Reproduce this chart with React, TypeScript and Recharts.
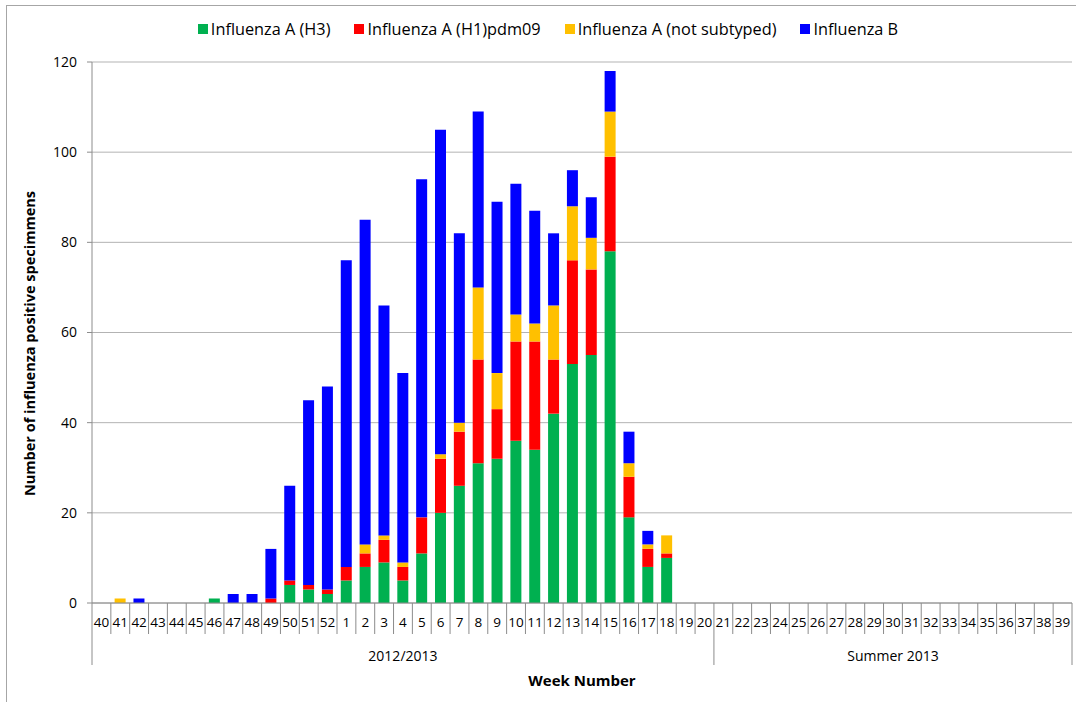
import React from "react";
import { BarChart, Bar, XAxis, YAxis, CartesianGrid, Legend } from "recharts";

const weeks = [
  "40","41","42","43","44","45","46","47","48","49","50","51","52",
  "1","2","3","4","5","6","7","8","9","10","11","12","13","14","15","16","17","18","19","20",
  "21","22","23","24","25","26","27","28","29","30","31","32","33","34","35","36","37","38","39",
];

const h3 = [
  0,0,0,0,0,0,1,0,0,0,4,3,2,
  5,8,9,5,11,20,26,31,32,36,34,42,53,55,78,19,8,10,0,0,
  0,0,0,0,0,0,0,0,0,0,0,0,0,0,0,0,0,0,0,
];
const h1 = [
  0,0,0,0,0,0,0,0,0,1,1,1,1,
  3,3,5,3,8,12,12,23,11,22,24,12,23,19,21,9,4,1,0,0,
  0,0,0,0,0,0,0,0,0,0,0,0,0,0,0,0,0,0,0,
];
const notSubtyped = [
  0,1,0,0,0,0,0,0,0,0,0,0,0,
  0,2,1,1,0,1,2,16,8,6,4,12,12,7,10,3,1,4,0,0,
  0,0,0,0,0,0,0,0,0,0,0,0,0,0,0,0,0,0,0,
];
const fluB = [
  0,0,1,0,0,0,0,2,2,11,21,41,45,
  68,72,51,42,75,72,42,39,38,29,25,16,8,9,9,7,3,0,0,0,
  0,0,0,0,0,0,0,0,0,0,0,0,0,0,0,0,0,0,0,
];

const groupLabels = ["2012/2013", "Summer 2013"];
const yTicks = [0, 20, 40, 60, 80, 100, 120];

const seriesNames = ["Influenza A (H3)", "Influenza A (H1)pdm09", "Influenza A (not subtyped)", "Influenza B"];
const seriesColors = ["#00B050", "#FF0000", "#FFC000", "#0000FF"];
const seriesKeys = ["h3", "h1", "ns", "b"];

const data = weeks.map((w, i) => ({
  week: w,
  h3: h3[i],
  h1: h1[i],
  ns: notSubtyped[i],
  b: fluB[i],
}));

const FONT = "'Open Sans', 'Liberation Sans', sans-serif";
const LINE = "#8c8c8c";

const GROUP2_START = 33; // index of week 21
const LAST = weeks.length - 1;

const WeekTick = (props: any) => {
  const { x, y, payload } = props;
  const index = payload.index;
  const half = payload.offset && payload.offset > 0 ? payload.offset : 9.42;
  const left = x - half;
  const right = x + half;
  const shortLen = 31;
  const longLen = 62;
  const els: any[] = [];
  const leftLong = index === 0 || index === GROUP2_START;
  els.push(
    <line key="l" x1={left} x2={left} y1={y} y2={y + (leftLong ? longLen : shortLen)} stroke={LINE} strokeWidth={1} />
  );
  if (index === LAST) {
    els.push(<line key="r" x1={right} x2={right} y1={y} y2={y + longLen} stroke={LINE} strokeWidth={1} />);
  }
  els.push(
    <text key="t" x={x} y={y + 19} textAnchor="middle" dominantBaseline="central" fontSize={13.5} fontFamily={FONT} fill="#000">
      {payload.value}
    </text>
  );
  if (index === 16) {
    els.push(
      <text key="g1" x={x} y={y + 52} textAnchor="middle" dominantBaseline="central" fontSize={14} fontFamily={FONT} fill="#000">
        {groupLabels[0]}
      </text>
    );
  }
  if (index === 42) {
    els.push(
      <text key="g2" x={x} y={y + 52} textAnchor="middle" dominantBaseline="central" fontSize={14} fontFamily={FONT} fill="#000">
        {groupLabels[1]}
      </text>
    );
  }
  return <g>{els}</g>;
};

const LegendContent = () => (
  <div style={{ display: "flex", justifyContent: "center", alignItems: "center", fontFamily: FONT, fontSize: 16.3, color: "#000", height: 24, paddingLeft: 20, boxSizing: "border-box" }}>
    {seriesNames.map((n, i) => (
      <div key={n} style={{ display: "flex", alignItems: "center", marginRight: i < seriesNames.length - 1 ? 24 : 0 }}>
        <span style={{ display: "inline-block", width: 10, height: 10, background: seriesColors[i], marginRight: 3 }} />
        <span>{n}</span>
      </div>
    ))}
  </div>
);

export default function App() {
  return (
    <div style={{ position: "absolute", left: 0, top: 0, width: 1076, height: 702, background: "#fff" }}>
      <div style={{ position: "absolute", left: 6, top: 5, width: 1070, height: 697, borderLeft: "1.5px solid #a6a6a6", borderTop: "1.5px solid #a6a6a6", boxSizing: "border-box" }} />
      <BarChart
        width={1076}
        height={702}
        data={data}
        margin={{ top: 38, right: 4, left: 0, bottom: 0 }}
        barCategoryGap="20%"
        style={{ position: "absolute", left: 0, top: 0 }}
      >
        <CartesianGrid vertical={false} stroke="#b3b3b3" strokeWidth={1} />
        <XAxis
          dataKey="week"
          type="category"
          interval={0}
          tickLine={false}
          tickSize={0}
          tickMargin={0}
          tick={<WeekTick />}
          axisLine={{ stroke: LINE }}
          height={99}
          label={{ value: "Week Number", position: "insideBottom", offset: 16, style: { fontFamily: FONT, fontSize: 15, fontWeight: 700, fill: "#000" } }}
        />
        <YAxis
          width={92}
          domain={[0, 120]}
          ticks={yTicks}
          interval={0}
          axisLine={{ stroke: LINE }}
          tickLine={{ stroke: LINE }}
          tickSize={5}
          tickMargin={10}
          tick={{ fontFamily: FONT, fontSize: 14, fill: "#000" }}
          label={{ value: "Number of influenza positive specimmens", angle: -90, position: "insideLeft", offset: 30, dy: 11, style: { textAnchor: "middle", fontFamily: FONT, fontSize: 14.5, fontWeight: 700, fill: "#000" } }}
        />
        <Legend verticalAlign="top" align="center" height={24} wrapperStyle={{ top: 17, left: 0, width: 1076 }} content={<LegendContent />} />
        {seriesKeys.map((k, i) => (
          <Bar key={k} dataKey={k} name={seriesNames[i]} stackId="a" fill={seriesColors[i]} isAnimationActive={false} />
        ))}
      </BarChart>
    </div>
  );
}
